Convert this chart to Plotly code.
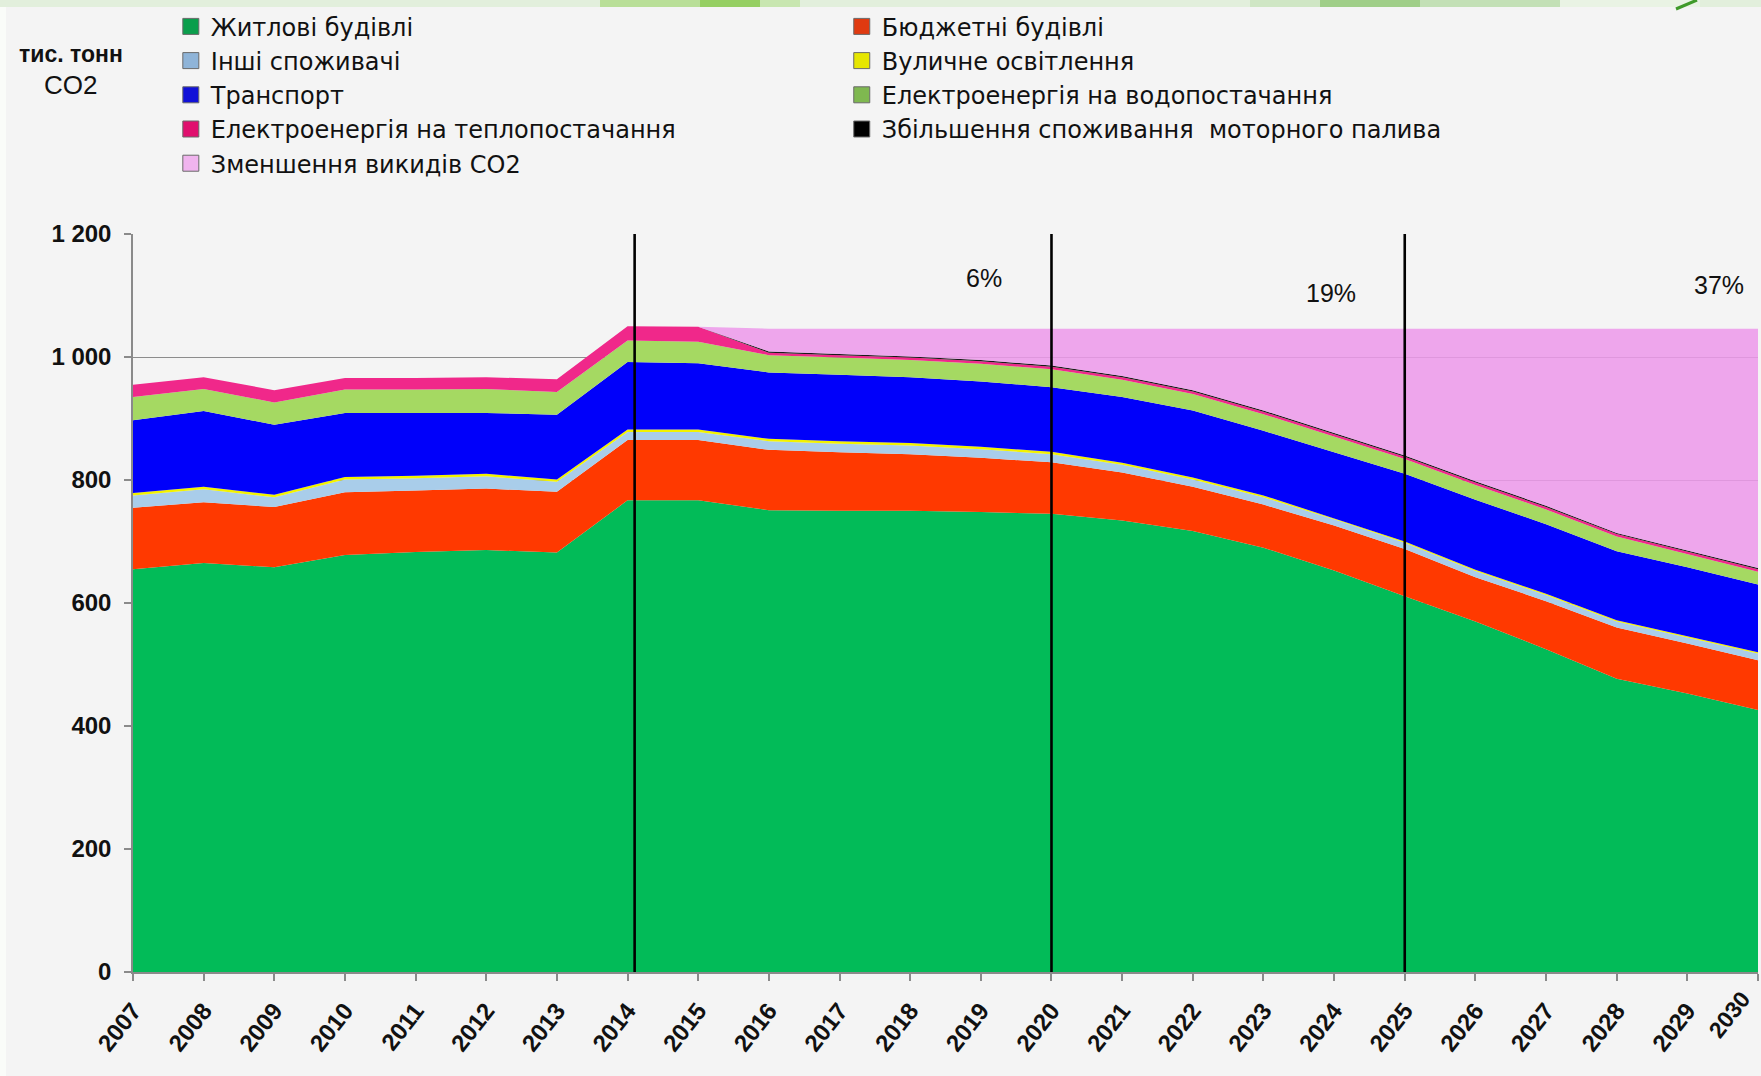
import plotly.graph_objects as go

# ---------------- data (тис. тонн CO2) ----------------
years = [2007, 2008, 2009, 2010, 2011, 2012, 2013, 2014, 2015, 2016, 2017, 2018,
         2019, 2020, 2021, 2022, 2023, 2024, 2025, 2026, 2027, 2028, 2029, 2030]
year_labels = [str(y) for y in years]

residential = [655, 665, 658, 678, 683, 686, 682, 767, 767, 751, 750, 750,
               748, 745, 734, 717, 690, 653, 611, 570, 525, 477, 453, 426]
budget = [100, 99, 98, 102, 100, 100, 99, 98, 98, 98, 95, 92,
          88, 84, 78, 72, 70, 73, 77, 72, 78, 83, 81, 81]
others = [20, 21, 16, 21, 20, 20, 16, 13, 13, 14, 14, 14,
          14, 13, 13, 12, 12, 10, 10, 10, 10, 10, 10, 11]
street = [4, 4, 4, 4, 4, 4, 4, 4, 4, 4, 4, 4,
          4, 4, 3, 3, 3, 2, 2, 2, 2, 2, 2, 2]
transport = [118, 123, 114, 104, 102, 99, 105, 110, 108, 108, 108, 107,
             106, 105, 107, 109, 105, 107, 110, 114, 113, 112, 112, 110]
water = [38, 36, 36, 38, 38, 39, 37, 35, 35, 28, 28, 28,
         29, 29, 28, 27, 27, 26, 24, 24, 24, 24, 22, 21]
heat = [20, 19, 20, 19, 19, 19, 21, 23, 24, 4, 4, 4,
        4, 4, 4, 4, 4, 4, 4, 4, 4, 4, 4, 4]
fuel = [0, 0, 0, 0, 0, 0, 0, 0, 0, 2, 2, 2,
        2, 2, 2, 2, 2, 2, 2, 2, 2, 2, 2, 2]
reduction = [0, 0, 0, 0, 0, 0, 0, 0, 0, 37, 41, 45,
             51, 60, 77, 100, 133, 169, 206, 248, 288, 332, 360, 389]

y_ticks = [0, 200, 400, 600, 800, 1000, 1200]
y_tick_labels = ["0", "200", "400", "600", "800", "1 000", "1 200"]

period_lines = [2014.1, 2020, 2025]
pct_labels = ["6%", "19%", "37%"]
pct_x = [2019.05, 2023.95, 2029.45]
pct_y = [1128, 1104, 1117]

# name, values, fill colour, legend-square colour, legend column
series = [
    ("Житлові будівлі", residential, "#02bb58", "#0a9e4c", "legend"),
    ("Бюджетні будівлі", budget, "#ff3900", "#e03a10", "legend2"),
    ("Інші споживачі", others, "#a9cdea", "#8fb4d8", "legend"),
    ("Вуличне освітлення", street, "#f2f200", "#e6e600", "legend2"),
    ("Транспорт", transport, "#0000fa", "#1010d8", "legend"),
    ("Електроенергія на водопостачання", water, "#a5d962", "#7fb850", "legend2"),
    ("Електроенергія на теплопостачання", heat, "#f0288a", "#e0106e", "legend"),
    ("Збільшення споживання  моторного палива", fuel, "#1a1a1a", "#000000", "legend2"),
    ("Зменшення викидів CO2", reduction, "rgba(236,152,234,0.86)", "#f0b4ee", "legend"),
]

FONT = "Liberation Sans, Arial, sans-serif"
LEGFONT = "DejaVu Sans, Liberation Sans, Arial, sans-serif"

fig = go.Figure()

for name, vals, col, lcol, leg in series:
    fig.add_trace(go.Scatter(
        x=years, y=vals, name=name, mode="lines",
        stackgroup="one", fillcolor=col,
        line=dict(width=0, color=col),
        showlegend=False, hoverinfo="x+y+name"))

# legend entries (square swatches) in two columns
for name, vals, col, lcol, leg in series:
    fig.add_trace(go.Scatter(
        x=[None], y=[None], name=name, mode="markers",
        marker=dict(symbol="square", size=16, color=lcol,
                    line=dict(width=1, color="#6a6a6a")),
        legend=leg, showlegend=True, hoverinfo="skip"))

# vertical period separators
for xv in period_lines:
    fig.add_shape(type="line", xref="x", yref="y", x0=xv, x1=xv, y0=-12, y1=1200,
                  line=dict(color="black", width=2.6), layer="above")

# percent annotations
for t, xv, yv in zip(pct_labels, pct_x, pct_y):
    fig.add_annotation(x=xv, y=yv, xref="x", yref="y", text=t, showarrow=False,
                       font=dict(family=FONT, size=25, color="#111111"))

W, H = 1761, 1076
ML, MR, MT, MB = 133, 3, 234, 104
PW, PH = W - ML - MR, H - MT - MB


def px(xp):
    return (xp - ML) / PW


def py(yp):
    return (H - MB - yp) / PH


# unit label (two lines)
fig.add_annotation(xref="paper", yref="paper", x=px(71), y=py(54),
                   xanchor="center", yanchor="middle",
                   text="<b>тис. тонн</b>", showarrow=False,
                   font=dict(family=FONT, size=23, color="#111111"))
fig.add_annotation(xref="paper", yref="paper", x=px(70), y=py(85),
                   xanchor="center", yanchor="middle",
                   text="CO2", showarrow=False,
                   font=dict(family=FONT, size=26, color="#111111"))

# last year label nudged left so it stays inside the page
tick_text = year_labels[:-1] + [""]
fig.add_annotation(xref="paper", yref="paper", x=px(1729), y=py(1015),
                   xanchor="center", yanchor="middle", textangle=-52,
                   text="<b>" + year_labels[-1] + "</b>", showarrow=False,
                   font=dict(family=FONT, size=23, color="#111111"))

# decorative top band
deco = [(0, 1761, "#e2efdc"), (600, 700, "#b9df98"), (700, 760, "#95cf62"),
        (760, 800, "#c8e6b0"), (1250, 1320, "#cfe6c4"), (1320, 1420, "#9fce88"),
        (1420, 1560, "#c3e0b6"), (1560, 1700, "#e9f3e4")]
for x0, x1, c in deco:
    fig.add_shape(type="rect", xref="paper", yref="paper",
                  x0=px(x0), x1=px(x1), y0=py(7), y1=py(0),
                  fillcolor=c, line=dict(width=0), layer="below")
fig.add_shape(type="rect", xref="paper", yref="paper",
              x0=px(0), x1=px(6), y0=py(1076), y1=py(7),
              fillcolor="#fafcf9", line=dict(width=0), layer="below")
fig.add_shape(type="line", xref="paper", yref="paper",
              x0=px(1697), x1=px(1676), y0=py(0), y1=py(9),
              line=dict(color="#3f9a2a", width=3))

axis_gray = "#8a8a8a"
leg_common = dict(xref="container", yref="container", y=0.996,
                  xanchor="left", yanchor="top", orientation="v",
                  bgcolor="rgba(0,0,0,0)", tracegroupgap=0, itemwidth=30,
                  traceorder="normal",
                  font=dict(family=LEGFONT, size=24, color="#111111"))
fig.update_layout(
    width=W, height=H,
    margin=dict(l=ML, r=MR, t=MT, b=MB, pad=0, autoexpand=False),
    paper_bgcolor="#f4f4f4", plot_bgcolor="#f4f4f4",
    font=dict(family=FONT, color="#111111"),
    xaxis=dict(range=[2007, 2030], tickmode="array", tickvals=years,
               ticktext=tick_text, tickangle=-52,
               tickfont=dict(family=FONT, size=24, color="#111111", weight="bold"),
               showgrid=False, zeroline=False, showline=True,
               linecolor=axis_gray, linewidth=2, automargin=False,
               ticklabeloverflow="allow",
               ticks="outside", ticklen=7, tickcolor=axis_gray, tickwidth=1.5,
               ticklabelstandoff=6, fixedrange=True),
    yaxis=dict(range=[0, 1200], tickmode="array", tickvals=y_ticks,
               ticktext=y_tick_labels, automargin=False,
               ticklabeloverflow="allow",
               tickfont=dict(family=FONT, size=24, color="#111111", weight="bold"),
               showgrid=True, gridcolor="#8c8c8c", gridwidth=1.3,
               zeroline=False, showline=True, linecolor=axis_gray, linewidth=1.5,
               ticks="outside", ticklen=7, tickcolor=axis_gray, tickwidth=1.5,
               ticklabelstandoff=8, fixedrange=True),
    legend=dict(x=0.097, **leg_common),
    legend2=dict(x=0.478, **leg_common),
    showlegend=True,
)

fig.write_html(
    "out.html",
    config={"displayModeBar": False},
    post_script="document.body.style.margin='0px';"
                "document.body.style.overflow='hidden';",
)
